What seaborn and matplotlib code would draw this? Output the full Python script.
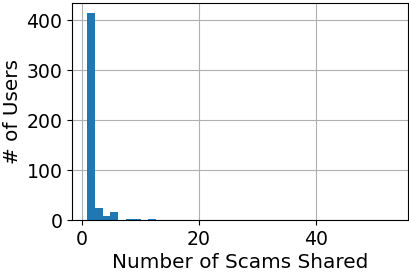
import matplotlib
matplotlib.use('Agg')
import matplotlib.pyplot as plt
import numpy as np
import pandas as pd
import seaborn as sns

# Histogram of scams shared per user, 40 bins between 1 and 53
bin_lo = 1
bin_hi = 53
n_bins = 40
counts = [414, 25, 9, 17, 0, 3, 3, 0, 3, 0,
          0, 0, 0, 0, 0, 0, 0, 0, 0, 0,
          0, 0, 0, 0, 0, 0, 0, 0, 0, 0,
          0, 0, 0, 0, 0, 0, 0, 0, 0, 1]

edges = np.linspace(bin_lo, bin_hi, n_bins + 1)
df = pd.DataFrame({
    'scams': (edges[:-1] + edges[1:]) / 2,
    'users': counts,
})

sns.set_style('ticks')
plt.rcParams['font.family'] = ['DejaVu Sans']
plt.rcParams['text.color'] = 'black'
plt.rcParams['axes.labelcolor'] = 'black'

fig = plt.figure(figsize=(4.10, 2.73), dpi=100)
ax = fig.add_axes([0.176, 0.194, 0.819, 0.795])
sns.histplot(data=df, x='scams', weights='users', bins=list(edges),
             color='#1f77b4', alpha=1, linewidth=0, ax=ax)
ax.set_axisbelow(True)
ax.grid(True, color='#b0b0b0', linewidth=0.8)
ax.set_ylim(0, 434.7)
ax.set_xlim(-1.6, 55.6)
ax.set_yticks([0, 100, 200, 300, 400])
ax.set_xticks([0, 20, 40])
ax.tick_params(labelsize=13.6, colors='black', direction='out', length=3.5, pad=3.5)
for s in ax.spines.values():
    s.set_visible(True)
    s.set_color('black')
    s.set_linewidth(0.8)
ax.set_xlabel('Number of Scams Shared', fontsize=14.4, labelpad=3, color='black')
ax.set_ylabel('# of Users', fontsize=14.4, labelpad=3, color='black')

fig.savefig('out.png', dpi=100)
